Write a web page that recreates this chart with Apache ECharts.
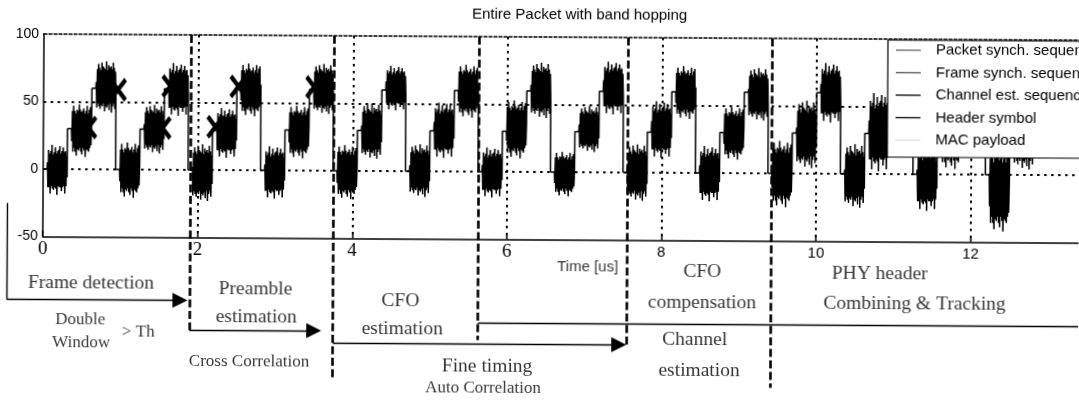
<!DOCTYPE html>
<html>
<head>
<meta charset="utf-8">
<script src="https://cdn.jsdelivr.net/npm/echarts@6.0.0/dist/echarts.min.js"></script>
<style>
html,body{margin:0;padding:0;background:#fff;overflow:hidden;}
#chart{width:1079px;height:403px;transform:rotate(0.345deg);transform-origin:539.5px 201.5px;}
</style>
</head>
<body>
<div id="chart"></div>
<script>
// ---------------- data ----------------
const xTicks = [0, 2, 4, 6, 8, 10, 12];          // Time [us]
const xTicksSerif = [0, 2, 4, 6];                // tick labels written in the serif face
const X_MAX = 13.4;                              // visible end of the time axis
const yTicks = [-50, 0, 50, 100];

const SYMBOL_US = 0.3125;      // symbol period
const GUARD_US = 0.05;         // flat part before each burst
const BURST_START_US = 0.055;
const BURST_LEN_US = 0.255;

// band offset of each symbol (band hopping 1-2-3)
const bandLevels = [0,30,60, 0,30,60, 0,30,60, 0,30,60, 0,30,60, 0,30,60, 0,30,60,
                    0,30,60, 0,30,60, 0,30,60, 0,30,60, 0,30,60, 0,30,60, 0,30,60];
// lower / upper extent of every burst
const burstLow  = [-19,9,42, -21,12,40, -23,9,40, -21,9,42, -21,9,45, -19,10,40, -19,10,40,
                   -18,15,43, -21,11,40, -21,10,39, -25,4,38, -25,2,38, -27,4,38, -42,4,38];
const burstHigh = [18,48,80, 20,48,79, 19,46,79, 18,48,79, 19,50,78, 20,51,79, 18,53,81,
                   15,49,82, 21,53,79, 20,49,78, 24,54,82, 22,60,80, 20,55,80, 20,55,80];
// oscillation shapes of the bursts (normalised)
const noiseShapeA = [0.3,-0.7,0.8,-0.7,0.65,-0.95,0.75,-0.65,1.0,-0.75,0.6,-0.8,0.7,-0.7,0.9,-0.75,0.65,-1.0,
                     0.75,-0.65,0.8,-0.7,0.95,-0.7,0.65,-0.85,0.75,-0.7,0.9,-0.65,0.7,-0.95,0.75,-0.65,0.55,-0.3];
const noiseShapeB = [-0.4,0.75,-0.8,0.95,-0.65,0.75,-0.8,0.65,-0.95,0.8,-0.7,0.75,-0.75,1.0,-0.65,0.8,-0.8,0.7,
                     -0.9,0.75,-0.65,0.85,-0.75,0.65,-1.0,0.75,-0.7,0.95,-0.75,0.65,-0.8,0.8,-0.65,0.9,-0.55,0.2];
const noiseShapeC = [0.2,-0.8,0.7,-0.65,0.9,-0.75,0.75,-0.85,0.65,-0.7,0.95,-0.75,0.8,-0.65,0.75,-0.95,0.7,-0.75,
                     1.0,-0.8,0.65,-0.7,0.85,-0.9,0.75,-0.65,0.8,-1.0,0.7,-0.75,0.95,-0.65,0.75,-0.85,0.6,-0.4];

const phaseNames = ['Packet synch. sequence', 'Frame synch. sequence', 'Channel est. sequence', 'Header symbol', 'MAC payload'];
const phaseFirstSymbol = [0, 21, 24, 30, 42];
const SYMBOL_COUNT = 42;

// X marks drawn on the first bursts  [time, value]
const crossMarks = [[0.58,31], [0.96,59], [1.54,31], [1.64,62], [2.225,32], [2.52,62], [3.50,62]];

// annotation diagram below the plot: [time, depth below axis]
const PLOT_TOP_DEPTH = -202.5;
const phaseBoundaries = [[1.90, 92.6], [3.758, 139.5], [5.634, 100.9], [7.555, 107], [9.42, 147.1]];
const plainSegments = [
  [[-0.462, -33.3], [-0.462, 63.1]],
  [[5.634, 83.8], [X_MAX, 83.8]]
];
const arrowSegments = [
  [[-0.462, 63.1], [1.779, 63.1]],
  [[1.90, 92.6], [3.512, 92.6]],
  [[3.758, 104.8], [7.458, 104.8]]
];
const bigLabels = [
  [0.627, 46.3, 'Frame detection'],
  [2.756, 51.3, 'Preamble'],
  [2.768, 79.3, 'estimation'],
  [4.631, 62.4, 'CFO'],
  [4.657, 90.4, 'estimation'],
  [5.757, 126.9, 'Fine timing'],
  [8.532, 31.5, 'CFO'],
  [8.532, 62.5, 'compensation'],
  [8.441, 99.6, 'Channel'],
  [8.499, 130.5, 'estimation'],
  [10.828, 32.4, 'PHY header'],
  [11.281, 62.2, 'Combining & Tracking']
];
const smallLabels = [
  [0.492, 83.1, 'Double'],
  [0.505, 106.1, 'Window'],
  [1.242, 94.8, '> Th'],
  [2.678, 124.1, 'Cross Correlation'],
  [5.705, 148.7, 'Auto Correlation']
];
const axisTitle = [[7.05, 27.6, 'Time [us]']];

// ---------------- build series ----------------
const noiseShapes = [noiseShapeA, noiseShapeB, noiseShapeC];
function symbolPoints(k) {
  const t0 = k * SYMBOL_US;
  const lvl = bandLevels[k];
  const mid = (burstLow[k] + burstHigh[k]) / 2;
  const half = (burstHigh[k] - burstLow[k]) / 2;
  const shape = noiseShapes[(k + Math.floor(k / 3)) % 3];
  const pts = [[t0, lvl], [t0 + GUARD_US, lvl]];
  for (let i = 0; i < shape.length; i++) {
    pts.push([t0 + BURST_START_US + i * BURST_LEN_US / (shape.length - 1), mid + shape[i] * half]);
  }
  return pts;
}

const waveSeries = phaseNames.map(function (name, p) {
  const first = phaseFirstSymbol[p];
  const last = (p + 1 < phaseFirstSymbol.length ? phaseFirstSymbol[p + 1] : SYMBOL_COUNT) - 1;
  let data = [];
  for (let k = first; k <= Math.min(last, SYMBOL_COUNT - 1); k++) data = data.concat(symbolPoints(k));
  if (last + 1 < SYMBOL_COUNT && data.length) data.push(symbolPoints(last + 1)[0]);
  return {
    name: name, type: 'line', xAxisIndex: 0, yAxisIndex: 0, data: data,
    symbol: 'none', showSymbol: false, silent: true, animation: false,
    lineStyle: {color: '#000', width: 1.5}, itemStyle: {color: '#000'}, z: 2
  };
});

const serifFont = '"Liberation Serif", "DejaVu Serif", serif';
const sansFont = '"Liberation Sans", Arial, sans-serif';

function textSeries(list, size, family) {
  return {
    type: 'scatter', xAxisIndex: 1, yAxisIndex: 1, silent: true, animation: false, clip: false,
    symbolSize: 1, itemStyle: {color: 'transparent'},
    data: list.map(function (d) { return {value: [d[0], d[1]], name: d[2]}; }),
    label: {show: true, position: 'inside', formatter: '{b}', color: '#000', fontSize: size, fontFamily: family},
    z: 5
  };
}

const GRID_LEFT = 43, GRID_W = 1036;
const option = {
  animation: false,
  backgroundColor: '#fff',
  title: {
    text: 'Entire Packet with band hopping', left: 471, top: 7, padding: 0,
    textStyle: {fontFamily: sansFont, fontSize: 15, fontWeight: 'normal', color: '#000'}
  },
  legend: {
    orient: 'vertical', left: 887, top: 38, align: 'left',
    icon: 'rect', itemWidth: 25, itemHeight: 1.3, itemGap: 6.5, padding: [2, 10, 9, 8],
    backgroundColor: '#fff', borderColor: '#000', borderWidth: 1.2, borderRadius: 0,
    selectedMode: false, z: 10,
    textStyle: {fontFamily: sansFont, fontSize: 15, color: '#000', lineHeight: 16, padding: [0, 0, 0, 10]},
    data: [
      {name: phaseNames[0], itemStyle: {color: '#666'}},
      {name: phaseNames[1], itemStyle: {color: '#555'}},
      {name: phaseNames[2], itemStyle: {color: '#000'}},
      {name: phaseNames[3], itemStyle: {color: '#000'}},
      {name: phaseNames[4], itemStyle: {color: '#ddd'}}
    ]
  },
  grid: [
    {left: GRID_LEFT, top: 37, width: GRID_W, height: 202.5, containLabel: false},
    {left: GRID_LEFT, top: 37, width: GRID_W, height: 366, containLabel: false}
  ],
  xAxis: [
    {
      type: 'value', gridIndex: 0, position: 'bottom',
      min: xTicks[0], max: X_MAX, interval: xTicks[1] - xTicks[0],
      axisLine: {show: true, onZero: false, lineStyle: {color: '#000', width: 1.5}},
      axisTick: {show: true, inside: true, length: 6, lineStyle: {color: '#000', width: 1.5}},
      axisLabel: {
        margin: 3, color: '#000', showMaxLabel: false,
        formatter: function (v) {
          return xTicksSerif.indexOf(v) >= 0 ? '{serif|' + v + '}' : '{sans|' + v + '}';
        },
        rich: {
          serif: {fontFamily: serifFont, fontSize: 19, lineHeight: 20, color: '#000'},
          sans: {fontFamily: sansFont, fontSize: 15, lineHeight: 18, color: '#000'}
        }
      },
      splitLine: {show: true, showMinLine: false, showMaxLine: false, lineStyle: {type: [2.5, 4.5], width: 2, color: '#000'}}
    },
    {type: 'value', gridIndex: 1, min: xTicks[0], max: X_MAX, show: false},
    {
      type: 'value', gridIndex: 0, position: 'top',
      min: xTicks[0], max: X_MAX,
      axisLine: {show: true, onZero: false, lineStyle: {color: '#000', width: 1.5, type: [3, 2]}},
      axisTick: {show: false}, axisLabel: {show: false}, splitLine: {show: false}
    }
  ],
  yAxis: [
    {
      type: 'value', gridIndex: 0,
      min: yTicks[0], max: yTicks[yTicks.length - 1], interval: yTicks[1] - yTicks[0],
      axisLine: {show: true, onZero: false, lineStyle: {color: '#000', width: 1.5}},
      axisTick: {show: false},
      axisLabel: {margin: 5, fontSize: 14, color: '#000', fontFamily: sansFont},
      splitLine: {show: true, showMinLine: false, showMaxLine: false, lineStyle: {type: [2.5, 4.5], width: 2, color: '#000'}}
    },
    {type: 'value', gridIndex: 1, min: PLOT_TOP_DEPTH, max: 163.5, inverse: true, show: false}
  ],
  series: waveSeries.concat([
    {
      type: 'scatter', xAxisIndex: 0, yAxisIndex: 0, silent: true, animation: false,
      symbol: 'path://M0,3L3,0L10,7L17,0L20,3L13,10L20,17L17,20L10,13L3,20L0,17L7,10Z',
      symbolSize: [18, 24], itemStyle: {color: '#000', opacity: 1}, data: crossMarks, z: 3
    },
    {
      type: 'lines', coordinateSystem: 'cartesian2d', xAxisIndex: 1, yAxisIndex: 1,
      silent: true, animation: false, clip: false, symbol: 'none',
      lineStyle: {color: '#000', width: 2.6, type: [8, 3.5], opacity: 1, curveness: 0},
      data: phaseBoundaries.map(function (b) { return {coords: [[b[0], PLOT_TOP_DEPTH], [b[0], b[1]]]}; }),
      z: 4
    },
    {
      type: 'lines', coordinateSystem: 'cartesian2d', xAxisIndex: 1, yAxisIndex: 1,
      silent: true, animation: false, clip: false, symbol: 'none',
      lineStyle: {color: '#000', width: 1.4, opacity: 1, curveness: 0},
      data: plainSegments.map(function (s) { return {coords: s}; }),
      z: 4
    },
    {
      type: 'lines', coordinateSystem: 'cartesian2d', xAxisIndex: 1, yAxisIndex: 1,
      silent: true, animation: false, clip: false,
      symbol: ['none', 'triangle'], symbolSize: 15,
      lineStyle: {color: '#000', width: 1.4, opacity: 1, curveness: 0},
      itemStyle: {color: '#000'},
      data: arrowSegments.map(function (s) { return {coords: s}; }),
      z: 4
    },
    textSeries(bigLabels, 19.5, serifFont),
    textSeries(smallLabels, 17, serifFont),
    textSeries(axisTitle, 15, sansFont)
  ])
};

const chart = echarts.init(document.getElementById('chart'), null, {renderer: 'canvas'});
chart.setOption(option);
</script>
</body>
</html>
